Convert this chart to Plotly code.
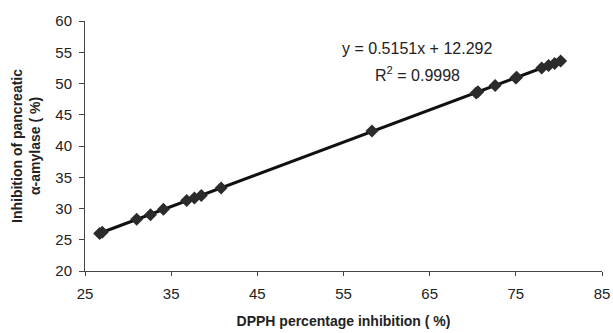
import plotly.graph_objects as go

dpph = [26.7, 27.0, 31.0, 32.6, 34.1, 36.8, 37.7, 38.5, 40.8, 58.3,
        70.4, 70.6, 72.6, 75.0, 75.1, 78.0, 78.8, 79.5, 80.2]
amylase = [26.0, 26.2, 28.3, 29.0, 29.9, 31.3, 31.7, 32.1, 33.3, 42.4,
           48.5, 48.7, 49.7, 50.9, 51.0, 52.5, 52.9, 53.2, 53.6]

x_ticks = [25, 35, 45, 55, 65, 75, 85]
y_ticks = [20, 25, 30, 35, 40, 45, 50, 55, 60]
eq_text = "y = 0.5151x + 12.292"
r2_text = "R<sup>2</sup> = 0.9998"

slope, intercept = 0.5151, 12.292
xl = [min(dpph), max(dpph)]
yl = [slope * v + intercept for v in xl]

L, R, T, B = 85, 602, 21, 271
W, H = 613, 333

fig = go.Figure()
fig.add_trace(go.Scatter(x=xl, y=yl, mode="lines",
                         line=dict(color="#111111", width=3), showlegend=False))
fig.add_trace(go.Scatter(x=dpph, y=amylase, mode="markers",
                         marker=dict(symbol="diamond", size=10, color="#2b2b2b",
                                     line=dict(width=0)), showlegend=False))

fig.add_annotation(xref="paper", yref="paper", x=(417 - L) / (R - L),
                   y=(B - 38) / (B - T),
                   text=eq_text, showarrow=False, font=dict(size=16, color="#222"))
fig.add_annotation(xref="paper", yref="paper", x=(417 - L) / (R - L),
                   y=(B - 62) / (B - T),
                   text=r2_text, showarrow=False, font=dict(size=16, color="#222"))

fig.update_layout(
    width=W, height=H,
    margin=dict(l=L, r=W - R, t=T, b=H - B),
    plot_bgcolor="white", paper_bgcolor="white",
    font=dict(family="Liberation Sans, Arial, sans-serif", color="#222"),
    xaxis=dict(range=[25, 85], tickvals=x_ticks, showgrid=False, zeroline=False,
               automargin=False, ticklabeloverflow="allow",
               showline=True, linecolor="#444", linewidth=1,
               ticks="outside", ticklen=4, tickcolor="#444",
               tickfont=dict(size=15), ticklabelstandoff=5,
               title=dict(text="<b>DPPH percentage inhibition ( %)</b>",
                          font=dict(size=14), standoff=15)),
    yaxis=dict(range=[20, 60], tickvals=y_ticks, showgrid=False, zeroline=False,
               automargin=False,
               showline=True, linecolor="#444", linewidth=1,
               ticks="outside", ticklen=5, tickcolor="#444",
               tickfont=dict(size=15), ticklabelstandoff=4,
               title=dict(text="<b>Inhibition of pancreatic<br>α-amylase ( %)</b>",
                          font=dict(size=14), standoff=11)),
)

fig.write_html("out.html", config={"displayModeBar": False},
               post_script="document.body.style.margin='0';document.body.style.overflow='hidden';")
